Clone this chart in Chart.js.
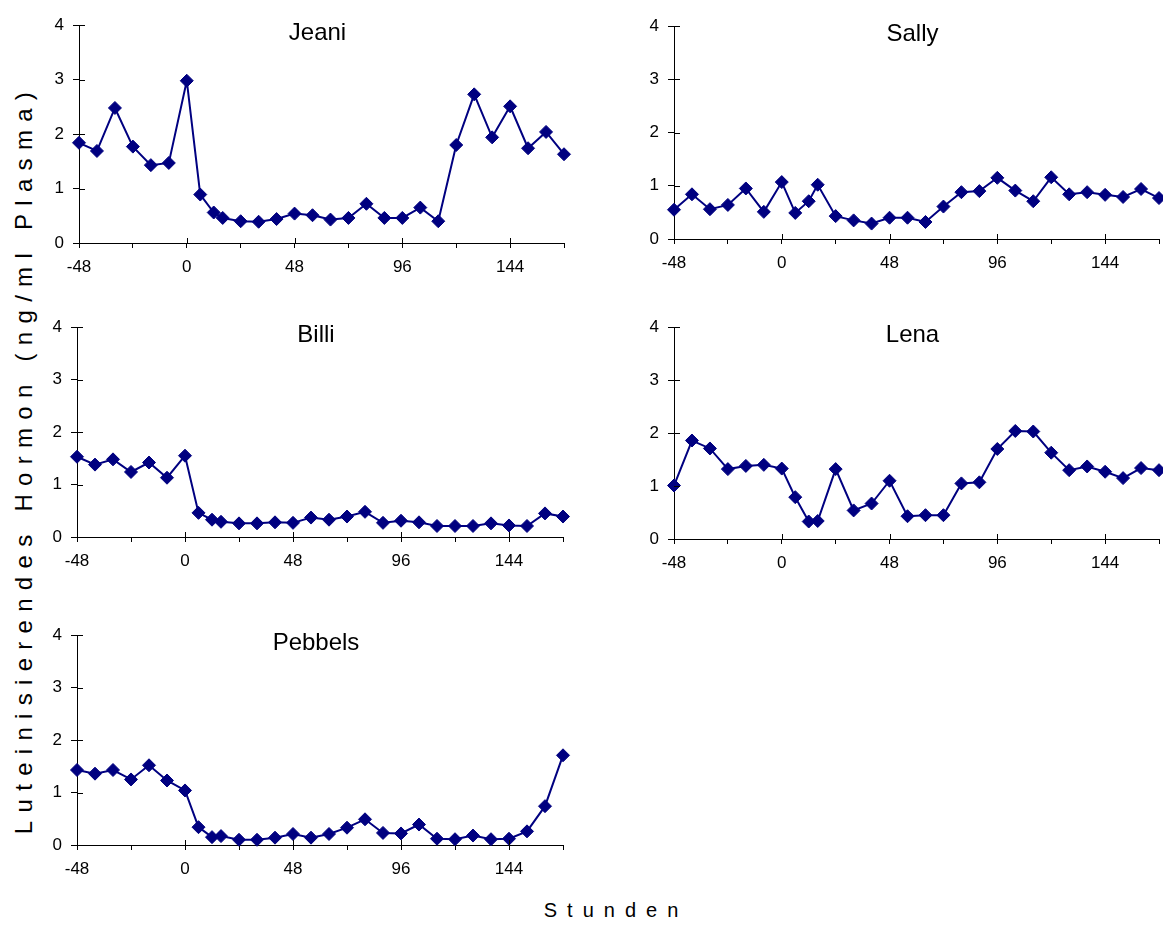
<!DOCTYPE html>
<html>
<head>
<meta charset="utf-8">
<script src="https://cdn.jsdelivr.net/npm/chart.js@4/dist/chart.umd.min.js"></script>
<style>
  html, body { margin: 0; padding: 0; background: #ffffff; overflow: hidden; }
  body { width: 1163px; height: 925px; position: relative; }
  canvas { position: absolute; }
  .axis-title {
    position: absolute;
    font-family: 'Liberation Sans', Arial, sans-serif;
    color: #000;
    white-space: nowrap;
    line-height: 1;
  }
</style>
</head>
<body>
<div class="axis-title" id="ylab" style="left:24px; top:459px; font-size:24px; letter-spacing:8.3px; transform:translate(-50%,-50%) rotate(-90deg);">Luteinisierendes Hormon (ng/ml Plasma)</div>
<div class="axis-title" id="xlab" style="left:616px; top:910px; font-size:20px; letter-spacing:10px; transform:translate(-50%,-50%);">Stunden</div>

<script>
// Sampling times (hours relative to the reference point)
const hours = [-48, -40, -32, -24, -16, -8, 0, 6, 12, 16, 24, 32, 40, 48, 56, 64, 72, 80, 88, 96, 104, 112, 120, 128, 136, 144, 152, 160, 168];

// LH concentration (ng/ml plasma) per animal
const jeani   = [1.84, 1.69, 2.48, 1.77, 1.43, 1.47, 2.98, 0.89, 0.56, 0.46, 0.40, 0.39, 0.44, 0.54, 0.51, 0.43, 0.46, 0.72, 0.46, 0.46, 0.65, 0.40, 1.80, 2.73, 1.94, 2.51, 1.74, 2.04, 1.63];
const sally   = [0.55, 0.84, 0.56, 0.64, 0.95, 0.51, 1.07, 0.49, 0.71, 1.02, 0.43, 0.35, 0.29, 0.40, 0.40, 0.32, 0.61, 0.88, 0.90, 1.15, 0.91, 0.71, 1.16, 0.84, 0.88, 0.83, 0.79, 0.94, 0.77];
const billi   = [1.53, 1.38, 1.48, 1.24, 1.42, 1.13, 1.55, 0.46, 0.33, 0.29, 0.26, 0.26, 0.28, 0.27, 0.37, 0.33, 0.39, 0.48, 0.27, 0.31, 0.28, 0.21, 0.21, 0.21, 0.26, 0.22, 0.21, 0.45, 0.39];
const lena    = [1.01, 1.86, 1.71, 1.32, 1.38, 1.40, 1.33, 0.79, 0.33, 0.34, 1.32, 0.54, 0.67, 1.10, 0.43, 0.45, 0.45, 1.05, 1.07, 1.70, 2.04, 2.03, 1.63, 1.30, 1.37, 1.27, 1.15, 1.34, 1.30];
const pebbels = [1.43, 1.36, 1.43, 1.25, 1.52, 1.23, 1.04, 0.34, 0.15, 0.17, 0.10, 0.10, 0.14, 0.21, 0.14, 0.21, 0.33, 0.49, 0.23, 0.22, 0.39, 0.12, 0.11, 0.18, 0.11, 0.12, 0.26, 0.74, 1.71];

// Axis settings
const xMin = -48, xMax = 168, xStep = 24, xLabelEvery = 48;
const yMin = 0, yMax = 4, yStep = 1;

const FONT = "'Liberation Sans', Arial, sans-serif";
const NAVY = '#000080';

// Panel plot areas on the page: left, top, right, bottom
const panels = [
  { name: 'Jeani',   values: jeani,   box: [79, 18, 564, 243] },
  { name: 'Sally',   values: sally,   box: [674, 19, 1159, 239] },
  { name: 'Billi',   values: billi,   box: [77, 320, 563, 537] },
  { name: 'Lena',    values: lena,    box: [674, 320, 1159, 539] },
  { name: 'Pebbels', values: pebbels, box: [77, 628, 563, 845] }
];

const YAXIS_W = 60, XAXIS_H = 45, PAD_TOP = 12, PAD_RIGHT = 12;

// Panel name written inside the plot area, plus inner halves of the tick marks
const panelDecor = {
  id: 'panelDecor',
  afterDraw(chart, args, opts) {
    const { ctx, chartArea, scales } = chart;
    ctx.save();
    ctx.strokeStyle = '#000';
    ctx.lineWidth = 1;
    ctx.beginPath();
    scales.y.ticks.forEach(t => {
      const y = Math.round(scales.y.getPixelForValue(t.value)) + 0.5;
      ctx.moveTo(chartArea.left, y);
      ctx.lineTo(chartArea.left + 6, y);
    });
    scales.x.ticks.forEach(t => {
      if (t.value % xLabelEvery === 0) {
        const x = Math.round(scales.x.getPixelForValue(t.value)) + 0.5;
        ctx.moveTo(x, chartArea.bottom);
        ctx.lineTo(x, chartArea.bottom - 5);
      }
    });
    ctx.stroke();
    ctx.fillStyle = '#000';
    ctx.font = '24px ' + FONT;
    ctx.textAlign = 'center';
    ctx.textBaseline = 'middle';
    ctx.fillText(opts.text, (chartArea.left + chartArea.right) / 2 - 4, chartArea.top + 8);
    ctx.restore();
  }
};

panels.forEach(p => {
  const [l, t, r, b] = p.box;
  const canvas = document.createElement('canvas');
  const w = (r - l) + YAXIS_W + PAD_RIGHT;
  const h = (b - t) + PAD_TOP + XAXIS_H;
  canvas.width = w;
  canvas.height = h;
  canvas.style.left = (l - YAXIS_W) + 'px';
  canvas.style.top = (t - PAD_TOP) + 'px';
  canvas.style.width = w + 'px';
  canvas.style.height = h + 'px';
  document.body.appendChild(canvas);

  new Chart(canvas, {
    type: 'line',
    data: {
      datasets: [{
        label: p.name,
        data: hours.map((x, i) => ({ x: x, y: p.values[i] })),
        borderColor: NAVY,
        backgroundColor: NAVY,
        borderWidth: 2,
        pointStyle: 'rectRot',
        pointRadius: 6.5,
        pointBorderWidth: 1,
        pointBackgroundColor: NAVY,
        pointBorderColor: NAVY,
        tension: 0,
        clip: false
      }]
    },
    options: {
      responsive: false,
      animation: false,
      devicePixelRatio: 1,
      layout: { padding: { top: PAD_TOP, right: PAD_RIGHT, left: 0, bottom: 0 } },
      plugins: {
        legend: { display: false },
        title: { display: false },
        tooltip: { enabled: false },
        panelDecor: { text: p.name }
      },
      scales: {
        x: {
          type: 'linear',
          min: xMin,
          max: xMax,
          afterFit(scale) { scale.height = XAXIS_H; },
          border: { display: true, color: '#000', width: 1 },
          grid: { drawOnChartArea: false, drawTicks: true, tickLength: 5, color: '#000' },
          ticks: {
            stepSize: xStep,
            autoSkip: false,
            maxRotation: 0,
            padding: 9,
            color: '#000',
            font: { family: FONT, size: 17 },
            callback: v => (v % xLabelEvery === 0 ? String(v) : '')
          }
        },
        y: {
          min: yMin,
          max: yMax,
          afterFit(scale) { scale.width = YAXIS_W; },
          border: { display: true, color: '#000', width: 1 },
          grid: { drawOnChartArea: false, drawTicks: true, tickLength: 6, color: '#000' },
          ticks: {
            stepSize: yStep,
            padding: 9,
            color: '#000',
            font: { family: FONT, size: 17 }
          }
        }
      }
    },
    plugins: [panelDecor]
  });
});
</script>
</body>
</html>
